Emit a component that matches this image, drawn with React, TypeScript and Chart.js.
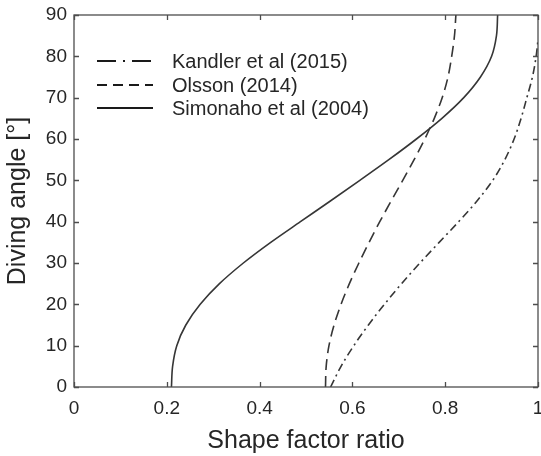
import React, { useEffect, useRef } from "react";
import { Chart, registerables } from "chart.js";

Chart.register(...registerables);

const SERIES_LABELS = ["Kandler et al (2015)", "Olsson (2014)", "Simonaho et al (2004)"];

const KANDLER_ANGLE = [0, 5, 10, 15, 20, 25, 30, 35, 40, 45, 50, 55, 60, 65, 70, 75, 80, 84];
const KANDLER_RATIO = [0.553, 0.5755, 0.603, 0.6345, 0.669, 0.706, 0.7455, 0.787, 0.829, 0.8685, 0.9025, 0.9285, 0.9485, 0.9635, 0.976, 0.988, 0.996, 1.0];

const OLSSON_ANGLE = [0, 5, 10, 15, 20, 25, 30, 35, 40, 45, 50, 55, 60, 65, 70, 75, 80, 85, 90];
const OLSSON_RATIO = [0.542, 0.5435, 0.5495, 0.5605, 0.5755, 0.5935, 0.614, 0.636, 0.659, 0.6835, 0.7085, 0.733, 0.756, 0.7765, 0.7935, 0.806, 0.814, 0.82, 0.823];

const SIMONAHO_ANGLE = [0, 5, 10, 15, 20, 25, 30, 35, 40, 45, 50, 55, 60, 65, 70, 75, 80, 85, 90];
const SIMONAHO_RATIO = [0.21, 0.2125, 0.2215, 0.241, 0.272, 0.3135, 0.365, 0.424, 0.488, 0.5525, 0.616, 0.6785, 0.738, 0.793, 0.84, 0.876, 0.9, 0.9105, 0.913];

const X_TICKS = [0, 0.2, 0.4, 0.6, 0.8, 1];
const X_TICK_LABELS = ["0", "0.2", "0.4", "0.6", "0.8", "1"];
const Y_TICKS = [0, 10, 20, 30, 40, 50, 60, 70, 80, 90];
const Y_TICK_LABELS = ["0", "10", "20", "30", "40", "50", "60", "70", "80", "90"];

const X_TITLE = "Shape factor ratio";
const Y_TITLE = "Diving angle [°]";

const FONT = "'Liberation Sans', Arial, Helvetica, sans-serif";
const LINE_COLOR = "#363636";
const AXIS_COLOR = "#4d4d4d";
const TEXT_COLOR = "#262626";

const CURVE_DASH = [[8, 4, 2, 4], [11, 6], []];
const LEGEND_DASH = [[19, 7, 2, 7], [10, 6], []];

function toPoints(xs: number[], ys: number[]) {
  return xs.map((x, i) => ({ x, y: ys[i] }));
}

const framePlugin = {
  id: "frameAndLegend",
  afterDatasetsDraw(chart: any) {
    const { ctx, chartArea } = chart;
    const { left, right, top, bottom } = chartArea;
    const xs = chart.scales.x;
    const ys = chart.scales.y;
    ctx.save();
    ctx.strokeStyle = AXIS_COLOR;
    ctx.lineWidth = 1.3;
    ctx.setLineDash([]);
    ctx.strokeRect(left, top, right - left, bottom - top);
    const tl = 5;
    ctx.beginPath();
    for (const v of X_TICKS) {
      const px = Math.round(xs.getPixelForValue(v)) + 0.5;
      ctx.moveTo(px, bottom);
      ctx.lineTo(px, bottom - tl);
      ctx.moveTo(px, top);
      ctx.lineTo(px, top + tl);
    }
    for (const v of Y_TICKS) {
      const py = Math.round(ys.getPixelForValue(v)) + 0.5;
      ctx.moveTo(left, py);
      ctx.lineTo(left + tl, py);
      ctx.moveTo(right, py);
      ctx.lineTo(right - tl, py);
    }
    ctx.stroke();

    // legend
    const rowY = [61, 85, 108];
    const lx0 = left + 23;
    const lx1 = left + 79;
    const tx = left + 98;
    ctx.font = `20px ${FONT}`;
    ctx.textBaseline = "middle";
    ctx.textAlign = "left";
    chart.data.datasets.forEach((ds: any, i: number) => {
      const yy = rowY[i];
      ctx.strokeStyle = "#1a1a1a";
      ctx.lineWidth = 2;
      ctx.setLineDash(LEGEND_DASH[i]);
      ctx.beginPath();
      ctx.moveTo(lx0, yy);
      ctx.lineTo(lx1, yy);
      ctx.stroke();
      ctx.setLineDash([]);
      ctx.fillStyle = TEXT_COLOR;
      ctx.fillText(ds.label, tx, yy + 1);
    });
    ctx.restore();
  },
};

export default function App() {
  const ref = useRef<HTMLCanvasElement | null>(null);

  useEffect(() => {
    if (!ref.current) return;
    const series = [
      toPoints(KANDLER_RATIO, KANDLER_ANGLE),
      toPoints(OLSSON_RATIO, OLSSON_ANGLE),
      toPoints(SIMONAHO_RATIO, SIMONAHO_ANGLE),
    ];
    const chart = new Chart(ref.current, {
      type: "scatter",
      data: {
        datasets: series.map((data, i) => ({
          label: SERIES_LABELS[i],
          data,
          showLine: true,
          borderColor: LINE_COLOR,
          borderWidth: 1.6,
          borderDash: CURVE_DASH[i],
          pointRadius: 0,
          pointHoverRadius: 0,
          cubicInterpolationMode: "monotone",
          fill: false,
        })),
      },
      options: {
        indexAxis: "y",
        responsive: false,
        animation: false,
        events: [],
        layout: { padding: { top: 15, right: 3, left: 0, bottom: 0 } },
        plugins: {
          legend: { display: false },
          tooltip: { enabled: false },
        },
        scales: {
          x: {
            type: "linear",
            position: "bottom",
            min: 0,
            max: 1,
            grid: { display: false, drawTicks: false },
            border: { display: false },
            afterBuildTicks: (s: any) => {
              s.ticks = X_TICKS.map((value) => ({ value }));
            },
            afterFit: (s: any) => {
              s.height = 69;
              s.paddingLeft = 0;
              s.paddingRight = 0;
            },
            ticks: {
              autoSkip: false,
              maxRotation: 0,
              padding: 10,
              color: TEXT_COLOR,
              font: { family: FONT, size: 19 },
              callback: (_v: any, i: number) => X_TICK_LABELS[i],
            },
            title: {
              display: true,
              text: X_TITLE,
              color: TEXT_COLOR,
              font: { family: FONT, size: 25 },
              padding: { top: 0, bottom: 0 },
            },
          },
          y: {
            type: "linear",
            position: "left",
            min: 0,
            max: 90,
            grid: { display: false, drawTicks: false },
            border: { display: false },
            afterBuildTicks: (s: any) => {
              s.ticks = Y_TICKS.map((value) => ({ value }));
            },
            afterFit: (s: any) => {
              s.width = 74;
              s.paddingTop = 0;
              s.paddingBottom = 0;
            },
            ticks: {
              autoSkip: false,
              padding: 7,
              color: TEXT_COLOR,
              font: { family: FONT, size: 19 },
              callback: (_v: any, i: number) => Y_TICK_LABELS[i],
            },
            title: {
              display: true,
              text: Y_TITLE,
              color: TEXT_COLOR,
              font: { family: FONT, size: 25 },
              padding: { top: 3, bottom: 0 },
            },
          },
        },
      },
      plugins: [framePlugin],
    });
    return () => chart.destroy();
  }, []);

  return (
    <div style={{ position: "absolute", left: 0, top: 0, width: 541, height: 456, background: "#fff" }}>
      <canvas ref={ref} width={541} height={456} style={{ display: "block" }} />
    </div>
  );
}
